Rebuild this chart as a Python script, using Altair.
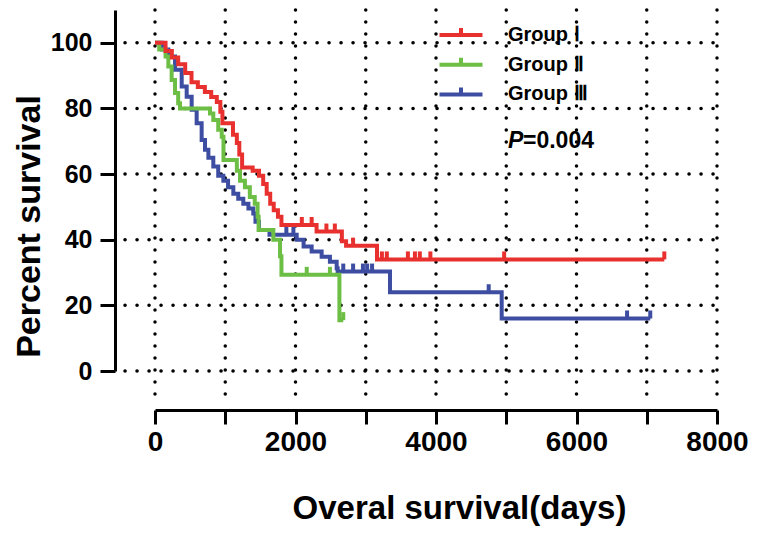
import altair as alt
import numpy as np
import pandas as pd

# ---- data ----
groups = ["Group Ⅰ", "Group Ⅱ", "Group Ⅲ"]
colors = ["#E8312F", "#6CBE45", "#3D4DA1"]

red_t = [0, 150, 240, 330, 430, 520, 610, 710, 800, 880, 930, 960, 1110, 1165, 1200, 1240,
         1390, 1480, 1540, 1590, 1640, 1690, 1750, 1800, 2300, 2660, 2720, 3160, 7250]
red_s = [100, 97.5, 95.5, 93.5, 90.8, 88, 86.5, 85, 83.5, 82, 79, 75.5, 72, 69.5, 66, 62,
         61, 59.5, 57, 54, 51, 49, 47, 44.5, 42.5, 39.5, 38.2, 34, 34]
red_c = [2090, 2230, 2440, 2560, 2820, 3230, 3300, 3600, 3700, 3770, 3920, 4970, 7250]

green_t = [0, 60, 150, 190, 237, 285, 330, 356, 783, 830, 900, 950, 975, 1165, 1210, 1280,
           1350, 1420, 1460, 1475, 1685, 1780, 1800, 2625, 2680]
green_s = [100, 98, 95.8, 92.8, 88.7, 84.7, 81.6, 80, 78.5, 76.5, 73.5, 71.4, 64.3, 61, 58, 56,
           53, 51, 47, 43, 40, 35, 29.3, 15.5, 15.5]
green_c = [2160, 2490, 2680]

blue_t = [0, 100, 190, 285, 380, 451, 522, 593, 664, 712, 760, 830, 900, 973, 1040, 1115, 1185,
          1257, 1330, 1399, 1430, 1480, 1630, 2017, 2115, 2230, 2372, 2490, 2586, 2600, 3345,
          4935, 7050]
blue_s = [100, 98, 95.8, 91.8, 86.7, 83.6, 79.6, 75.5, 70.4, 67.4, 65, 62.3, 59.5, 58, 56, 54,
          52.5, 51, 49.5, 48, 45.5, 43, 41.5, 40, 37.9, 36.4, 34.8, 33.3, 31.3, 30.3, 24, 16, 16]
blue_c = [1870, 1970, 2680, 2820, 2960, 3020, 3090, 4750, 6720, 7050]

x_ticks = list(range(0, 8001, 1000))
y_ticks = [0, 20, 40, 60, 80, 100]
p_label = "=0.004"

# ---- tables ----
series = [(groups[0], red_t, red_s, red_c),
          (groups[1], green_t, green_s, green_c),
          (groups[2], blue_t, blue_s, blue_c)]
curve_rows, cens_rows = [], []
for g, ts, ss, cs in series:
    for t, s in zip(ts, ss):
        curve_rows.append({"group": g, "t": t, "s": s})
    ta = np.array(ts)
    for c in cs:
        i = int(np.searchsorted(ta, c, side="right")) - 1
        cens_rows.append({"group": g, "t": c, "s": ss[i]})
curves = pd.DataFrame(curve_rows)
cens = pd.DataFrame(cens_rows)

W, H = 562, 361
FONT = "Liberation Sans"

xscale = alt.Scale(domain=[0, 8000], nice=False, zero=False)
yscale = alt.Scale(domain=[0, 110], nice=False)
cscale = alt.Scale(domain=groups, range=colors)

x_axis = alt.Axis(values=x_ticks, labelExpr="datum.value % 2000 == 0 ? datum.label : ''",
                  format="d", offset=39, grid=False, domainColor="black", domainWidth=3,
                  tickColor="black", tickWidth=3, tickSize=14, labelFont=FONT, labelFontSize=28,
                  labelFontWeight="bold", labelColor="black", labelPadding=4, labelFlush=False,
                  labelOverlap=False, title="Overal survival(days)", titleFont=FONT,
                  titleFontSize=33, titleFontWeight="bold", titleColor="black",
                  titleX=304, titleY=108, titleAlign="center", titleBaseline="alphabetic")
y_axis = alt.Axis(values=y_ticks, offset=40, grid=False, domainColor="black", domainWidth=3,
                  tickColor="black", tickWidth=3, tickSize=15, labelFont=FONT, labelFontSize=25,
                  labelFontWeight="bold", labelColor="black", labelPadding=8, labelFlush=False,
                  title="Percent survival", titleFont=FONT, titleFontSize=34,
                  titleFontWeight="bold", titleColor="black", titleX=-76, titleY=216,
                  titleAlign="center", titleBaseline="alphabetic", titleAngle=270)

dot = dict(stroke="black", strokeWidth=3.5, strokeDash=[0.1, 11.9], strokeCap="round")

hgrid = alt.Chart(pd.DataFrame({"v": y_ticks})).mark_rule(**dot).encode(
    y=alt.Y("v:Q", scale=yscale, axis=y_axis), x=alt.value(-30), x2=alt.value(W))
vgrid = alt.Chart(pd.DataFrame({"v": x_ticks})).mark_rule(**dot).encode(
    x=alt.X("v:Q", scale=xscale, axis=x_axis), y=alt.value(0), y2=alt.value(H + 34))

legend = alt.Legend(title=None, orient="none", legendX=293, legendY=12,
                    symbolType="M-2,0H2M0,0V-0.64", symbolSize=462, symbolStrokeWidth=4,
                    symbolOpacity=1, labelFont=FONT, labelFontSize=20, labelFontWeight="bold",
                    labelColor="black", labelOffset=34, rowPadding=4.7, padding=0)

layers = [hgrid, vgrid]
for k in [2, 1, 0]:
    g = groups[k]
    base = alt.Chart(curves).transform_filter(alt.datum.group == g)
    layers.append(base.mark_line(interpolate="step-after", strokeWidth=4).encode(
        x=alt.X("t:Q", scale=xscale, axis=x_axis),
        y=alt.Y("s:Q", scale=yscale, axis=y_axis),
        color=alt.Color("group:N", scale=cscale, legend=legend),
        order="t:Q"))
    layers.append(alt.Chart(cens).transform_filter(alt.datum.group == g).mark_tick(
        orient="vertical", size=8, thickness=4, yOffset=-4, opacity=1).encode(
        x=alt.X("t:Q", scale=xscale), y=alt.Y("s:Q", scale=yscale),
        color=alt.Color("group:N", scale=cscale, legend=legend)))

p_italic = alt.Chart(pd.DataFrame({"t": ["P"]})).mark_text(
    font=FONT, fontSize=23, fontWeight="bold", fontStyle="italic", align="left",
    baseline="alphabetic", color="black").encode(
    x=alt.value(353), y=alt.value(138), text="t:N")
p_value = alt.Chart(pd.DataFrame({"t": [p_label]})).mark_text(
    font=FONT, fontSize=23, fontWeight="bold", align="left",
    baseline="alphabetic", color="black").encode(
    x=alt.value(368), y=alt.value(138), text="t:N")
layers += [p_italic, p_value]

chart = alt.layer(*layers).properties(
    width=W, height=H,
    autosize=alt.AutoSizeParams(type="none"),
    padding={"left": 147, "top": 2, "right": 32, "bottom": 157},
    background="white",
).configure_view(stroke=None)

chart.save("out.html", embed_options={"renderer": "svg", "actions": False})
